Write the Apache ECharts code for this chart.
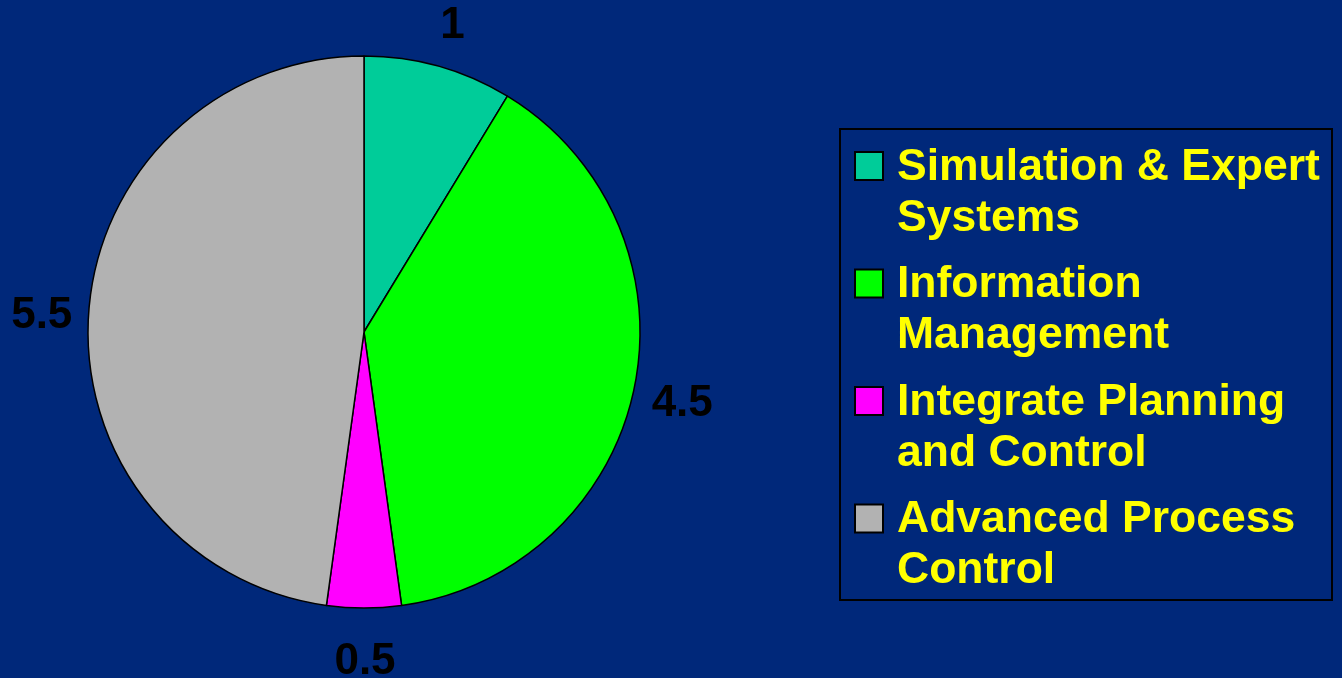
<!DOCTYPE html>
<html>
<head>
<meta charset="utf-8">
<script src="https://cdn.jsdelivr.net/npm/echarts@6/dist/echarts.min.js"></script>
<style>
html,body{margin:0;padding:0;background:#00287A;}
#chart{width:1342px;height:678px;}
</style>
</head>
<body>
<div id="chart"></div>
<script>
var categories = ['Simulation & Expert\nSystems', 'Information\nManagement', 'Integrate Planning\nand Control', 'Advanced Process\nControl'];
var values = [1, 4.5, 0.5, 5.5];
var colors = ['#00CC99', '#00FF00', '#FF00FF', '#B2B2B2'];

var FONT = '"Liberation Sans", Arial, sans-serif';
var data = categories.map(function (c, i) {
  return { name: c, value: values[i], itemStyle: { color: colors[i] } };
});
var ghostData = categories.map(function (c, i) {
  return { name: c, value: values[i] };
});

var legendGraphics = [{
  type: 'rect',
  shape: { x: 840, y: 129, width: 492, height: 471 },
  style: { fill: 'transparent', stroke: '#000', lineWidth: 2 }
}];
categories.forEach(function (c, i) {
  var top = 152 + 117.5 * i;
  legendGraphics.push({
    type: 'rect',
    shape: { x: 855, y: top, width: 28, height: 28 },
    style: { fill: colors[i], stroke: '#000', lineWidth: 2 }
  });
  legendGraphics.push({
    type: 'text',
    x: 897, y: top - 10,
    style: {
      text: c, fill: '#FFFF00', font: 'bold 44.5px ' + FONT,
      lineHeight: 51, verticalAlign: 'top', align: 'left'
    }
  });
});

var chart = echarts.init(document.getElementById('chart'));
chart.setOption({
  backgroundColor: '#00287A',
  animation: false,
  graphic: legendGraphics,
  series: [{
    type: 'pie',
    center: [364, 332],
    radius: 276,
    startAngle: 90,
    clockwise: true,
    data: data,
    label: { show: false },
    labelLine: { show: false },
    itemStyle: { borderColor: '#000', borderWidth: 1.5 },
    emphasis: { disabled: true },
    silent: true
  }, {
    type: 'pie',
    center: [364, 332],
    radius: [298, 344],
    startAngle: 90,
    clockwise: true,
    data: ghostData,
    itemStyle: { color: 'transparent', borderWidth: 0 },
    label: {
      show: true, position: 'inside', color: '#000',
      fontFamily: FONT, fontWeight: 'bold', fontSize: 44,
      offset: [1, 6],
      formatter: function (p) { return p.value; }
    },
    labelLine: { show: false },
    emphasis: { disabled: true },
    silent: true
  }]
});
</script>
</body>
</html>
